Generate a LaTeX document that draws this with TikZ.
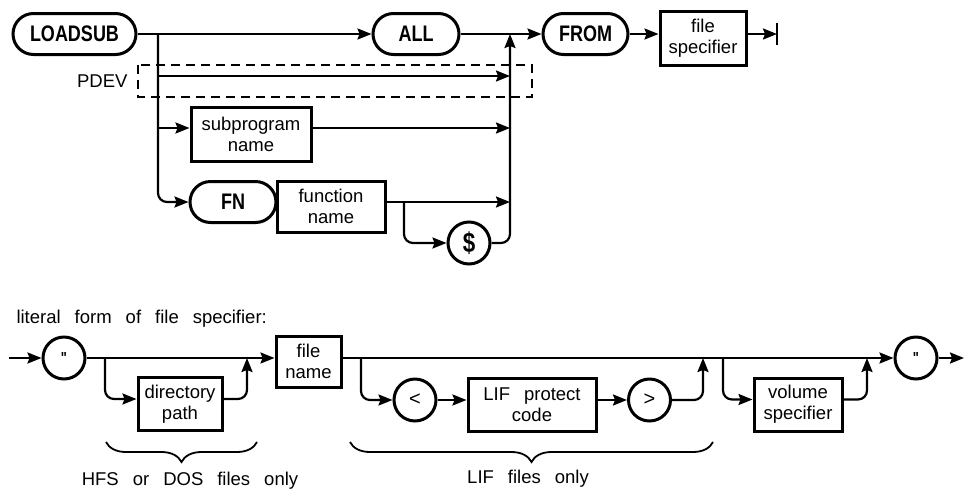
\documentclass[tikz,border=0pt]{standalone}
\usepackage{fontspec}
\setmainfont{Liberation Sans}
\newfontfamily\kwfont{Liberation Sans}[FakeStretch=0.8]
\usetikzlibrary{arrows.meta,shapes.misc,decorations.pathreplacing}
\newcommand\lblfont{\fontsize{18.5}{21}\selectfont}
\newcommand\kwf{\kwfont\bfseries\fontsize{22.5}{24}\selectfont}
\newcommand\widesp{\spaceskip=14pt plus 1pt\relax}
\begin{document}
\begin{tikzpicture}[x=1pt,y=-1pt,
  conn/.style={line width=2.2pt, rounded corners=9pt},
  arr/.style={-{Stealth[length=14pt,width=11pt,inset=2pt]}},
  kw/.style={rounded rectangle, draw, line width=3pt, inner sep=0pt, minimum height=41pt, font=\kwf},
  box/.style={rectangle, draw, line width=3pt, inner sep=0pt, align=center, font=\lblfont},
  circ/.style={circle, draw, line width=3pt, inner sep=0pt, minimum size=42pt},
  brc/.style={line width=1.8pt, decorate, decoration={brace,mirror,amplitude=20pt}},
]
\useasboundingbox (0,0) rectangle (964,491);

% ---------- top diagram ----------
\node[kw, minimum width=123pt] (loadsub) at (74.5,34) {LOADSUB};
\node[kw, minimum width=86pt] (all) at (416,34) {ALL};
\node[kw, minimum width=85pt] (from) at (585.5,34) {FROM};
\node[box, minimum width=86pt, minimum height=54pt] (fspec) at (703,38.5) {file\\specifier};
\coordinate (endbar) at (777,34);
\node[box, minimum width=120pt, minimum height=54pt] (sub) at (251,134) {subprogram\\name};
\node[kw, minimum width=86pt] (fn) at (233,202) {FN};
\node[box, minimum width=108pt, minimum height=51pt] (fname) at (331,206.5) {function\\name};
\node[circ, font=\kwf\fontsize{28}{28}\selectfont] (dollar) at (469,243) {\$};
\node[anchor=east, font=\lblfont] (pdev) at (131,81) {PDEV};

\coordinate (ja) at (158,34);
\coordinate (jb) at (510,34);
\coordinate (pdL) at (158,76);
\coordinate (pdR) at (510,76);
\coordinate (subin) at ([yshift=6pt]sub.west);
\coordinate (subout) at ([yshift=6pt]sub.east);
\coordinate (jc) at (404,202);

\draw[conn,arr] (loadsub.east) -- (all.west);
\draw[conn,arr] (all.east) -- (from.west);
\draw[conn,arr] (from.east) -- (fspec.west |- from);
\draw[conn,arr] (fspec.east |- from) -- (endbar);
\draw[line width=2.4pt] ([yshift=11pt]endbar) -- ([yshift=-11pt]endbar);
\draw[conn,arr] (ja) |- (fn.west);
\draw[conn,arr] (ja |- subin) -- (subin);
\draw[conn,arr] (pdL) -- (pdR);
\draw[conn,arr] (subout) -- (jb |- subout);
\draw[conn,arr] (fname.east |- fn) -- (jb |- fn);
\draw[conn,arr] (jc) |- (dollar.west);
\draw[conn,arr] (dollar.east) -| (jb);
\draw[line width=1.4pt, dash pattern=on 9pt off 6pt] (138,65) rectangle (532,97);

% ---------- bottom diagram ----------
\node[anchor=base west, font=\lblfont] (lit) at (13,323) {\widesp literal form of file specifier:};
\coordinate (start) at (9,358);
\node[circ, font=\kwf\fontsize{16}{16}\selectfont] (q1) at (64,358) {"};
\node[box, minimum width=84pt, minimum height=53pt] (dir) at (180,404) {directory\\path};
\node[box, minimum width=65pt, minimum height=51pt] (fnm) at (308.5,361.5) {file\\name};
\node[circ, font=\fontsize{20}{20}\selectfont] (lt) at (415,400) {<};
\node[box, minimum width=128pt, minimum height=53pt] (lif) at (532,404.5) {\widesp LIF protect\\code};
\node[circ, font=\fontsize{20}{20}\selectfont] (gt) at (649.5,400) {>};
\node[box, minimum width=88pt, minimum height=53pt] (vol) at (798,404.5) {volume\\specifier};
\node[circ, font=\kwf\fontsize{16}{16}\selectfont] (q2) at (916,358) {"};
\coordinate (finish) at (964,358);

\coordinate (j1) at (105,358);
\coordinate (j2) at (247,358);
\coordinate (j3) at (361,358);
\coordinate (j4) at (703,358);
\coordinate (j5) at (723,358);
\coordinate (j6) at (867,358);
\coordinate (dirin) at ([yshift=5pt]dir.west);
\coordinate (dirout) at ([yshift=5pt]dir.east);
\coordinate (volin) at ([yshift=5pt]vol.west);
\coordinate (volout) at ([yshift=5pt]vol.east);

\draw[conn,arr] (start) -- (q1.west);
\draw[conn,arr] (q1.east) -- (fnm.west |- q1);
\draw[conn,arr] (fnm.east |- q1) -- (q2.west);
\draw[conn,arr] (q2.east) -- (finish);
\draw[conn,arr] (j1) |- (dirin);
\draw[conn,arr] (dirout) -| (j2);
\draw[conn,arr] (j3) |- (lt.west);
\draw[conn,arr] (lt.east) -- (lt.east -| lif.west);
\draw[conn,arr] (lt.east -| lif.east) -- (gt.west);
\draw[conn,arr] (gt.east) -| (j4);
\draw[conn,arr] (j5) |- (volin);
\draw[conn,arr] (volout) -| (j6);

\coordinate (b1L) at (106,442);
\coordinate (b1R) at (257,442);
\coordinate (b2L) at (350,442);
\coordinate (b2R) at (713,442);
\draw[brc] (b1L) -- (b1R);
\draw[brc] (b2L) -- (b2R);
\node[font=\lblfont, anchor=base] (hfs) at (190,485) {\widesp HFS or DOS files only};
\node[font=\lblfont, anchor=base] (lifonly) at (528,483) {\widesp LIF files only};
\end{tikzpicture}
\end{document}
